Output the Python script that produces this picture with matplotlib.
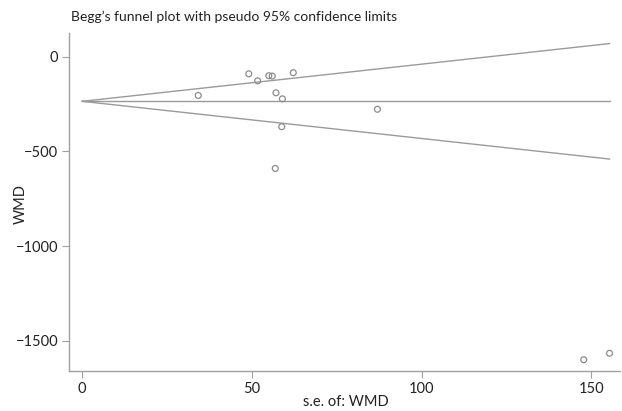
import numpy as np
import matplotlib
matplotlib.use("Agg")
import matplotlib.pyplot as plt

se = [34.2, 49.1, 51.7, 55.0, 56.0, 62.2, 57.1, 59.0, 87.0, 58.8, 56.9, 147.8, 155.4]
wmd = [-205, -91, -128, -101, -103, -85, -191, -223, -278, -370, -590, -1599, -1565]
pooled = -236
z = 1.96
xticks = [0, 50, 100, 150]
yticks = [0, -500, -1000, -1500]
ytick_labels = ['0', '\u2212500', '\u22121000', '\u22121500']

plt.rcParams['font.family'] = ['Lato', 'DejaVu Sans']

fig = plt.figure(figsize=(6.22, 4.11), dpi=100)
ax = fig.add_axes([0.1114, 0.098, 0.886, 0.822])

smax = max(se)
xs = np.array([0, smax])
lc = '#9a9a9a'
ax.plot(xs, pooled + z * xs, color=lc, lw=1.0)
ax.plot(xs, pooled - z * xs, color=lc, lw=1.0)
ax.plot(xs, [pooled, pooled], color=lc, lw=1.0)
ax.scatter(se, wmd, s=18, facecolors='none', edgecolors='#8c8c8c', linewidths=0.9, zorder=3)

ax.set_xlim(-3.8, 158.6)
ax.set_ylim(-1657, 125)
ax.set_xticks(xticks)
ax.set_yticks(yticks)
ax.set_yticklabels(ytick_labels)
for s in ['top', 'right']:
    ax.spines[s].set_visible(False)
for s in ['left', 'bottom']:
    ax.spines[s].set_color('#a0a0a0')
    ax.spines[s].set_linewidth(1.0)
ax.tick_params(colors='#a0a0a0', labelcolor='#222222', length=5, width=0.8, labelsize=10.5, pad=3)
ax.set_xlabel('s.e. of: WMD', fontsize=10.5, color='#222222')
ax.xaxis.set_label_coords((346 - 69.3) / 551, -(402 - 370.7) / 338)
ax.set_ylabel('WMD', fontsize=10.5, color='#222222')
ax.yaxis.set_label_coords((20.5 - 69.3) / 551, 1 - (203.5 - 32.7) / 338)
ax.xaxis.label.set_va('center')
ax.yaxis.label.set_va('center')
fig.text(71 / 622, 1 - 17 / 411, "Begg\u2019s funnel plot with pseudo 95% confidence limits",
         fontsize=10, color='#222222', va='center', ha='left')

fig.savefig('out.png', dpi=100)
